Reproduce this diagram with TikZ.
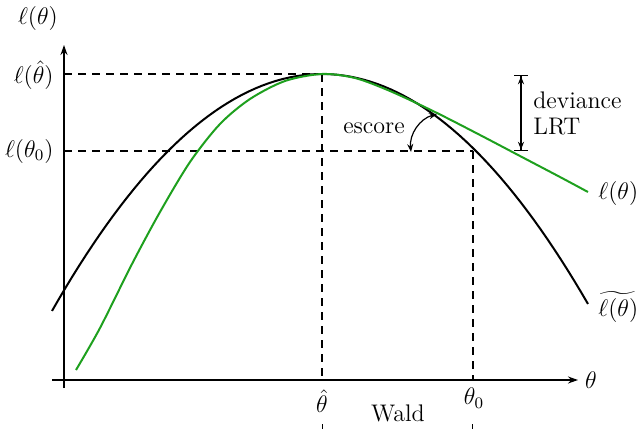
\documentclass[tikz,border=0pt]{standalone}
\usepackage{amsmath}
\usetikzlibrary{arrows.meta}
\definecolor{lgreen}{RGB}{30,160,30}
\begin{document}
\begin{tikzpicture}[x=0.5pt,y=-0.5pt,
  lbl/.style={inner sep=1pt,font=\fontsize{12}{14}\selectfont},
  axis/.style={line width=0.75pt,-{Stealth[length=5pt,width=3.5pt]}},
  guide/.style={line width=0.55pt,dash pattern=on 4pt off 3pt},
  curveb/.style={line width=1pt,black},
  curveg/.style={line width=1pt,lgreen},
  dimarrow/.style={line width=0.6pt,{Bar[width=7pt]Stealth[length=4pt,width=3pt]}-{Stealth[length=4pt,width=3pt]Bar[width=7pt]}},
  waldarrow/.style={line width=0.6pt,{Bar[width=12pt]Stealth[length=4pt,width=3pt]}-{Stealth[length=4pt,width=3pt]Bar[width=12pt]}},
  curarrow/.style={line width=0.6pt,{Stealth[length=4pt,width=3pt]}-{Stealth[length=4pt,width=3pt]}}]
\useasboundingbox (0,0) rectangle (639,429);
% axes
\coordinate (ybot) at (64,388);
\coordinate (ytop) at (64,45);
\coordinate (xl) at (52,380);
\coordinate (xr) at (578,380);
\draw[axis] (ybot) -- (ytop);
\draw[axis] (xl) -- (xr);
\node[lbl] (ylab) at (38,18) {$\ell(\theta)$};
\node[lbl] (xlab) at (591,380) {$\theta$};
% guide lines
\coordinate (ya) at (64,74);
\coordinate (pk) at (322,74);
\coordinate (yb) at (64,151);
\coordinate (q) at (473,151);
\coordinate (pkb) at (322,380);
\coordinate (qb) at (473,380);
\draw[guide] (ya) -- (pk);
\draw[guide] (yb) -- (q);
\draw[guide] (pk) -- (pkb);
\draw[guide] (q) -- (qb);
\node[lbl,anchor=east] (la) at (56,75) {$\ell(\hat\theta)$};
\node[lbl,anchor=east] (lb) at (56,151) {$\ell(\theta_0)$};
\node[lbl] (th) at (322,401) {$\hat\theta$};
\node[lbl] (t0) at (474,398) {$\theta_0$};
% curves
\draw[curveb] plot[domain=52:588,samples=80] ({\x},{74+0.00325*(\x-322)*(\x-322)});
\draw[curveg] plot[smooth,tension=0.5] coordinates {(76,370) (100,328) (132,264) (160,212) (190,162) (220,124) (250,99) (285,81) (322,74) (355,78) (390,91) (435,112) (480,135) (520,156) (560,177) (588,192)};
\node[lbl,anchor=west] (lg) at (596,193) {$\ell(\theta)$};
\node[lbl,anchor=west] (lbk) at (596,307) {$\widetilde{\ell(\theta)}$};
% deviance
\coordinate (d1) at (521,75);
\coordinate (d2) at (521,151);
\draw[dimarrow] (d1) -- (d2);
\node[lbl,anchor=west] (dev) at (531,100) {deviance};
\node[lbl,anchor=west] (lrt) at (531,127) {LRT};
% escore
\coordinate (e1) at (411,152);
\coordinate (e2) at (437,114);
\draw[curarrow] (e1) to[bend left=40] (e2);
\node[lbl] (esc) at (374,128) {escore};
% Wald
\node[lbl] (wald) at (398,413) {Wald};
\coordinate (w1) at (322,436);
\coordinate (w2) at (473,436);
\draw[waldarrow] (w1) -- (w2);
\end{tikzpicture}
\end{document}
